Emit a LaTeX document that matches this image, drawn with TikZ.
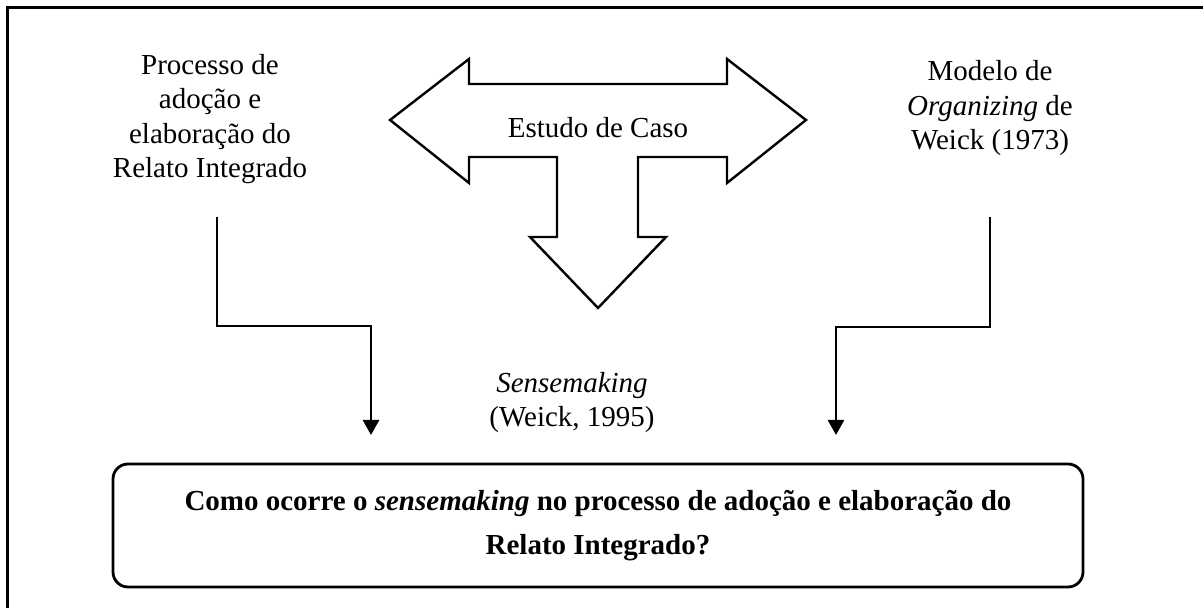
\documentclass[tikz,border=0pt]{standalone}
\usepackage{fontspec}
\setmainfont{Liberation Serif}
\usetikzlibrary{arrows.meta}
\begin{document}
\begin{tikzpicture}[x=0.5pt,y=-0.5pt,
  txt/.style={font=\fontsize{14.5}{17.25}\selectfont, align=center, inner sep=0pt},
  bigarrow/.style={draw, line width=1.2pt, line join=miter, fill=white},
  conn/.style={line width=1.3pt, -{Triangle[width=8pt,length=7.5pt]}},
  frameline/.style={line width=1.2pt},
  qbox/.style={draw, line width=1.4pt, rounded corners=7.5pt, minimum width=485pt, minimum height=61.5pt, align=center, font=\fontsize{14.5}{22}\selectfont\bfseries, inner sep=0pt}]
\useasboundingbox (0,0) rectangle (1203,608);
\draw[frameline] (7.5,608) -- (7.5,7.5) -- (1203,7.5);
\draw[bigarrow] (390,120) -- (469,59) -- (469,84) -- (727,84) -- (727,59) -- (806,120) -- (727,183) -- (727,157) -- (638,157) -- (638,237) -- (666,237) -- (598,308) -- (530,237) -- (557,237) -- (557,157) -- (469,157) -- (469,183) -- cycle;
\node[txt, anchor=base] (caso) at (598,138) {Estudo de Caso};
\node[txt, anchor=base] (left) at (210,178) {Processo de\\adoção e\\elaboração do\\Relato Integrado};
\node[txt, anchor=base] (right) at (990,150) {Modelo de\\\textit{Organizing} de\\Weick (1973)};
\node[txt, anchor=base] (sense) at (572,427) {\textit{Sensemaking}\\(Weick, 1995)};
\node[qbox] (q) at (598,525.5) {Como ocorre o \textit{sensemaking} no processo de adoção e elaboração do\\Relato Integrado?};
\coordinate (lstart) at (217,217);
\coordinate (lend) at (371,435);
\coordinate (rstart) at (990,217);
\coordinate (rend) at (836,435);
\draw[conn] (lstart) -- ++(0,109) -| (lend);
\draw[conn] (rstart) -- ++(0,110) -| (rend);
\end{tikzpicture}
\end{document}
